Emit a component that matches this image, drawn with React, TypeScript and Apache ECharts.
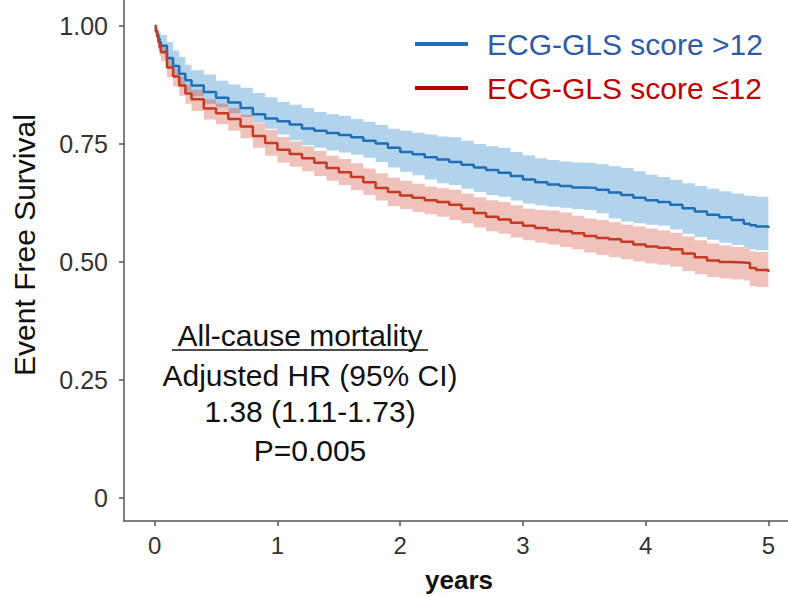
import React, { useEffect, useRef } from "react";
import * as echarts from "echarts";

// ---- data ----
const TIMES = [0, 0.01, 0.02, 0.03, 0.04, 0.05, 0.1, 0.15, 0.2, 0.25, 0.3, 0.4, 0.5, 0.6, 0.7, 0.8, 0.9, 1.0, 1.1, 1.2, 1.3, 1.4, 1.5, 1.6, 1.7, 1.8, 1.9, 2.0, 2.1, 2.2, 2.3, 2.4, 2.5, 2.6, 2.7, 2.8, 2.9, 3.0, 3.1, 3.2, 3.3, 3.4, 3.5, 3.6, 3.7, 3.8, 3.9, 4.0, 4.1, 4.2, 4.3, 4.4, 4.5, 4.6, 4.7, 4.8, 4.85, 4.9, 5.0];

const BLUE_EST = [1.0, 0.99, 0.982, 0.974, 0.966, 0.958, 0.932, 0.915, 0.899, 0.885, 0.874, 0.86, 0.848, 0.838, 0.826, 0.813, 0.804, 0.798, 0.791, 0.783, 0.778, 0.773, 0.769, 0.764, 0.757, 0.751, 0.742, 0.733, 0.728, 0.722, 0.717, 0.712, 0.706, 0.70, 0.695, 0.689, 0.682, 0.675, 0.669, 0.664, 0.661, 0.658, 0.657, 0.653, 0.647, 0.642, 0.636, 0.631, 0.627, 0.621, 0.614, 0.607, 0.60, 0.595, 0.589, 0.581, 0.578, 0.575, 0.572];
const BLUE_UPPER = [1.0, 0.997, 0.994, 0.99, 0.986, 0.981, 0.966, 0.948, 0.934, 0.918, 0.906, 0.897, 0.884, 0.876, 0.869, 0.858, 0.849, 0.839, 0.833, 0.826, 0.818, 0.813, 0.81, 0.803, 0.797, 0.79, 0.782, 0.778, 0.774, 0.77, 0.766, 0.764, 0.757, 0.75, 0.745, 0.742, 0.733, 0.726, 0.72, 0.716, 0.713, 0.711, 0.71, 0.707, 0.703, 0.699, 0.692, 0.685, 0.68, 0.674, 0.667, 0.661, 0.655, 0.65, 0.645, 0.641, 0.64, 0.638, 0.636];
const BLUE_LOWER = [1.0, 0.985, 0.97, 0.96, 0.95, 0.94, 0.914, 0.893, 0.872, 0.86, 0.851, 0.835, 0.828, 0.815, 0.807, 0.795, 0.782, 0.77, 0.758, 0.748, 0.742, 0.736, 0.732, 0.727, 0.721, 0.712, 0.70, 0.691, 0.684, 0.675, 0.667, 0.663, 0.655, 0.648, 0.642, 0.638, 0.63, 0.624, 0.62, 0.617, 0.615, 0.612, 0.61, 0.603, 0.592, 0.586, 0.582, 0.579, 0.577, 0.569, 0.56, 0.553, 0.547, 0.541, 0.536, 0.53, 0.527, 0.525, 0.521];

const RED_EST = [1.0, 0.988, 0.977, 0.966, 0.955, 0.945, 0.912, 0.893, 0.874, 0.857, 0.845, 0.825, 0.815, 0.803, 0.787, 0.767, 0.752, 0.738, 0.729, 0.72, 0.71, 0.699, 0.69, 0.68, 0.669, 0.657, 0.648, 0.641, 0.636, 0.631, 0.627, 0.621, 0.613, 0.604, 0.596, 0.59, 0.583, 0.577, 0.572, 0.568, 0.565, 0.561, 0.555, 0.551, 0.548, 0.543, 0.537, 0.533, 0.53, 0.527, 0.518, 0.51, 0.503, 0.5, 0.499, 0.498, 0.487, 0.483, 0.479];
const RED_UPPER = [1.0, 0.993, 0.984, 0.976, 0.968, 0.96, 0.93, 0.91, 0.893, 0.876, 0.865, 0.845, 0.836, 0.826, 0.812, 0.794, 0.78, 0.765, 0.755, 0.745, 0.735, 0.725, 0.718, 0.709, 0.698, 0.688, 0.679, 0.672, 0.666, 0.66, 0.656, 0.653, 0.645, 0.637, 0.631, 0.627, 0.62, 0.613, 0.61, 0.609, 0.605, 0.598, 0.592, 0.589, 0.584, 0.579, 0.575, 0.571, 0.567, 0.562, 0.554, 0.546, 0.539, 0.535, 0.532, 0.529, 0.523, 0.521, 0.519];
const RED_LOWER = [1.0, 0.982, 0.965, 0.95, 0.937, 0.925, 0.892, 0.872, 0.852, 0.835, 0.82, 0.802, 0.792, 0.778, 0.762, 0.742, 0.725, 0.71, 0.702, 0.692, 0.682, 0.672, 0.663, 0.652, 0.642, 0.63, 0.618, 0.612, 0.606, 0.601, 0.596, 0.589, 0.582, 0.573, 0.565, 0.56, 0.552, 0.546, 0.541, 0.537, 0.532, 0.527, 0.52, 0.515, 0.51, 0.506, 0.501, 0.497, 0.494, 0.49, 0.481, 0.474, 0.468, 0.465, 0.463, 0.461, 0.449, 0.447, 0.447];

const X_TICKS = [0, 1, 2, 3, 4, 5];
const Y_TICKS = [0, 0.25, 0.5, 0.75, 1.0];
const Y_TICK_LABELS = ["0", "0.25", "0.50", "0.75", "1.00"];

const LEGEND_LABELS = ["ECG-GLS score >12", "ECG-GLS score \u226412"];
const ANNOTATION_TITLE = "All-cause mortality";
const ANNOTATION_LINES = ["Adjusted HR (95% CI)", "1.38 (1.11-1.73)", "P=0.005"];
const Y_TITLE = "Event Free Survival";
const X_TITLE = "years";

const FONT = "'Liberation Sans', Arial, Helvetica, sans-serif";
const BLUE = "#1f6eb6";
const RED = "#c23b22";

const pairs = (vals: number[]) => TIMES.map((t, i) => [t, vals[i]]);

export default function App() {
  const ref = useRef<HTMLDivElement>(null);

  useEffect(() => {
    if (!ref.current) return;
    const chart = echarts.init(ref.current, undefined, { renderer: "svg" });
    const axisColor = "#555555";

    // step-shaped confidence band drawn as a polygon through the axis scales
    const bandSeries = (lo: number[], up: number[], color: string) => ({
      type: "custom",
      silent: true,
      z: 1,
      data: [[0, 0]],
      renderItem: (_params: any, api: any) => {
        const n = TIMES.length;
        const pts: number[][] = [];
        for (let i = 0; i < n; i++) {
          pts.push(api.coord([TIMES[i], up[i]]));
          if (i < n - 1) pts.push(api.coord([TIMES[i + 1], up[i]]));
        }
        for (let i = n - 1; i >= 0; i--) {
          if (i < n - 1) pts.push(api.coord([TIMES[i + 1], lo[i]]));
          pts.push(api.coord([TIMES[i], lo[i]]));
        }
        return { type: "polygon", shape: { points: pts }, style: { fill: color } };
      },
    });

    chart.setOption({
      animation: false,
      backgroundColor: "#ffffff",
      grid: { left: 124, right: 0, top: 0, bottom: 76, containLabel: false },
      xAxis: {
        type: "value",
        min: -0.25,
        max: 5.16,
        axisLine: { show: true, onZero: false, lineStyle: { color: axisColor, width: 1.5 } },
        axisTick: { show: true, length: 5, customValues: X_TICKS, lineStyle: { color: axisColor, width: 1.5 } },
        axisLabel: {
          customValues: X_TICKS,
          fontSize: 24,
          color: "#333333",
          fontFamily: FONT,
          margin: 12,
        },
        splitLine: { show: false },
      },
      yAxis: {
        type: "value",
        min: -0.0487,
        max: 1.055,
        axisLine: { show: true, onZero: false, lineStyle: { color: axisColor, width: 1.5 } },
        axisTick: { show: true, length: 5, customValues: Y_TICKS, lineStyle: { color: axisColor, width: 1.5 } },
        axisLabel: {
          customValues: Y_TICKS,
          fontSize: 25,
          color: "#333333",
          fontFamily: FONT,
          margin: 16,
          formatter: (v: number) => {
            const idx = Y_TICKS.findIndex((t) => Math.abs(t - v) < 1e-6);
            return idx >= 0 ? Y_TICK_LABELS[idx] : "";
          },
        },
        splitLine: { show: false },
      },
      series: [
        bandSeries(BLUE_LOWER, BLUE_UPPER, "rgba(52,140,205,0.38)"),
        bandSeries(RED_LOWER, RED_UPPER, "rgba(205,70,50,0.33)"),
        {
          type: "line",
          name: LEGEND_LABELS[0],
          step: "end",
          data: pairs(BLUE_EST),
          symbol: "none",
          lineStyle: { color: BLUE, width: 2.5 },
          z: 3,
        },
        {
          type: "line",
          name: LEGEND_LABELS[1],
          step: "end",
          data: pairs(RED_EST),
          symbol: "none",
          lineStyle: { color: RED, width: 2.5 },
          z: 3,
        },
      ],
      graphic: [
        // legend
        { type: "line", shape: { x1: 415, y1: 44, x2: 468, y2: 44 }, style: { stroke: "#1a70c0", lineWidth: 4 } },
        {
          type: "text",
          x: 487,
          y: 44,
          style: { text: LEGEND_LABELS[0], fill: "#2f5ba6", font: `30px ${FONT}`, textAlign: "left", textVerticalAlign: "middle" },
        },
        { type: "line", shape: { x1: 415, y1: 88, x2: 468, y2: 88 }, style: { stroke: "#c00000", lineWidth: 4 } },
        {
          type: "text",
          x: 487,
          y: 88,
          style: { text: LEGEND_LABELS[1], fill: "#c00000", font: `30px ${FONT}`, textAlign: "left", textVerticalAlign: "middle" },
        },
        // annotation
        {
          type: "text",
          x: 300,
          y: 335,
          style: { text: ANNOTATION_TITLE, fill: "#111111", font: `30px ${FONT}`, textAlign: "center", textVerticalAlign: "middle" },
        },
        { type: "line", shape: { x1: 172, y1: 350, x2: 428, y2: 350 }, style: { stroke: "#111111", lineWidth: 1.5 } },
        ...ANNOTATION_LINES.map((t, i) => ({
          type: "text",
          x: 310,
          y: [375, 411, 450][i],
          style: { text: t, fill: "#111111", font: `30px ${FONT}`, textAlign: "center", textVerticalAlign: "middle" },
        })),
        // axis titles
        {
          type: "text",
          x: 24,
          y: 245,
          rotation: Math.PI / 2,
          style: { text: Y_TITLE, fill: "#111111", font: `30px ${FONT}`, textAlign: "center", textVerticalAlign: "middle" },
        },
        {
          type: "text",
          x: 459,
          y: 580,
          style: { text: X_TITLE, fill: "#111111", font: `bold 26px ${FONT}`, textAlign: "center", textVerticalAlign: "middle" },
        },
      ],
    });

    return () => chart.dispose();
  }, []);

  return (
    <div
      ref={ref}
      style={{ position: "fixed", left: 0, top: 0, width: 788, height: 597, background: "#fff" }}
    />
  );
}
